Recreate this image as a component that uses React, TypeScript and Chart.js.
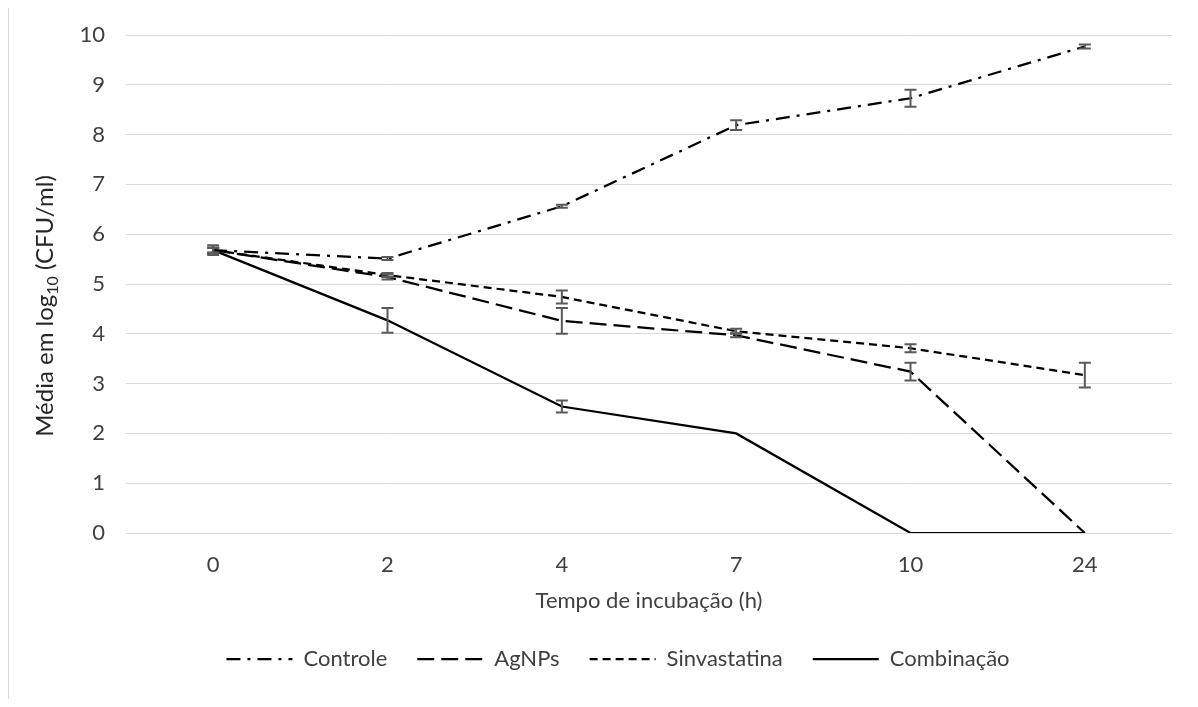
import { useEffect, useRef } from 'react';
import { Chart, registerables } from 'chart.js';

Chart.register(...registerables);

const categories = ['0', '2', '4', '7', '10', '24'];
const controle = [5.68, 5.51, 6.56, 8.19, 8.73, 9.77];
const controleErr = [0.1, 0.03, 0.03, 0.1, 0.17, 0.04];
const agnps = [5.68, 5.14, 4.26, 3.97, 3.24, 0];
const agnpsErr = [0.05, 0.05, 0.26, 0.04, 0.18, 0];
const sinvastatina = [5.68, 5.18, 4.74, 4.05, 3.71, 3.17];
const sinvastatinaErr = [0.05, 0.04, 0.13, 0.05, 0.08, 0.25];
const combinacao = [5.68, 4.27, 2.54, 2.0, 0, 0];
const combinacaoErr = [0.05, 0.25, 0.12, 0, 0, 0];
const yTicks = [0, 1, 2, 3, 4, 5, 6, 7, 8, 9, 10];

const FONT = 'Lato, "Open Sans", sans-serif';
const TEXT = '#404040';
const FS = 22;

const errorBars = {
  id: 'errorBars',
  afterDatasetsDraw(chart: any) {
    const ctx = chart.ctx;
    const x = chart.scales.x;
    const y = chart.scales.y;
    ctx.save();
    ctx.strokeStyle = '#595959';
    ctx.lineWidth = 2;
    ctx.setLineDash([]);
    chart.data.datasets.forEach((ds: any) => {
      const errs: number[] = ds.errors || [];
      ds.data.forEach((v: number, i: number) => {
        const e = errs[i];
        if (!e) return;
        const px = x.getPixelForValue(i);
        const top = y.getPixelForValue(v + e);
        const bot = y.getPixelForValue(v - e);
        ctx.beginPath();
        ctx.moveTo(px, top);
        ctx.lineTo(px, bot);
        ctx.moveTo(px - 6, top);
        ctx.lineTo(px + 6, top);
        ctx.moveTo(px - 6, bot);
        ctx.lineTo(px + 6, bot);
        ctx.stroke();
      });
    });
    ctx.restore();
  },
};

const yTitle = {
  id: 'yTitle',
  afterDraw(chart: any) {
    const ctx = chart.ctx;
    const parts: [string, number, number][] = [
      ['Média em log', 24, 0],
      ['10', 16, 5],
      [' (CFU/ml)', 24, 0],
    ];
    ctx.save();
    ctx.fillStyle = '#262626';
    ctx.textBaseline = 'alphabetic';
    ctx.textAlign = 'left';
    let total = 0;
    parts.forEach(([t, s]) => {
      ctx.font = `${s}px ${FONT}`;
      total += ctx.measureText(t).width;
    });
    ctx.translate(53, 306);
    ctx.rotate(-Math.PI / 2);
    let cx = -total / 2;
    parts.forEach(([t, s, dy]) => {
      ctx.font = `${s}px ${FONT}`;
      ctx.fillText(t, cx, dy);
      cx += ctx.measureText(t).width;
    });
    ctx.restore();
  },
};

const legendShift = {
  id: 'legendShift',
  afterLayout(chart: any) {
    const l = chart.legend;
    if (l) {
      l.left += 32;
      l.right += 32;
    }
  },
};

export default function App() {
  const ref = useRef<HTMLCanvasElement>(null);
  useEffect(() => {
    const chart = new Chart(ref.current!, {
      type: 'line',
      data: {
        labels: categories,
        datasets: [
          {
            label: 'Controle',
            data: controle,
            errors: controleErr,
            borderColor: '#000',
            backgroundColor: '#000',
            borderWidth: 2.25,
            borderDash: [14, 7, 3, 7],
            pointRadius: 0,
            fill: false,
          } as any,
          {
            label: 'AgNPs',
            data: agnps,
            errors: agnpsErr,
            borderColor: '#000',
            backgroundColor: '#000',
            borderWidth: 2.25,
            borderDash: [17, 7],
            pointRadius: 0,
            fill: false,
          } as any,
          {
            label: 'Sinvastatina',
            data: sinvastatina,
            errors: sinvastatinaErr,
            borderColor: '#000',
            backgroundColor: '#000',
            borderWidth: 2.25,
            borderDash: [8, 5],
            pointRadius: 0,
            fill: false,
          } as any,
          {
            label: 'Combinação',
            data: combinacao,
            errors: combinacaoErr,
            borderColor: '#000',
            backgroundColor: '#000',
            borderWidth: 2.25,
            borderDash: [],
            pointRadius: 0,
            fill: false,
          } as any,
        ],
      },
      options: {
        responsive: false,
        maintainAspectRatio: false,
        animation: false,
        layout: { padding: { left: 0, right: 26, top: 35, bottom: 27 } },
        plugins: {
          tooltip: { enabled: false },
          legend: {
            position: 'bottom',
            labels: {
              usePointStyle: true,
              pointStyle: 'line',
              pointStyleWidth: 66,
              padding: 30,
              color: TEXT,
              font: { family: FONT, size: FS },
              generateLabels(chart: any) {
                const base = (Chart.defaults as any).plugins.legend.labels.generateLabels(chart);
                return base.map((item: any, i: number) => ({
                  ...item,
                  pointStyle: 'line',
                  lineDash: chart.data.datasets[i].borderDash || [],
                  lineWidth: 2.25,
                  strokeStyle: '#000',
                  fillStyle: '#000',
                  fontColor: TEXT,
                }));
              },
            },
          },
        },
        scales: {
          x: {
            offset: true,
            grid: { display: false, drawTicks: false },
            border: { display: false },
            ticks: { color: TEXT, padding: 19, font: { family: FONT, size: FS } },
            title: {
              display: true,
              text: 'Tempo de incubação (h)',
              color: TEXT,
              font: { family: FONT, size: FS },
              padding: { top: 0, bottom: 4 },
            },
            afterFit(s: any) {
              s.height = 85;
            },
          },
          y: {
            min: 0,
            max: 10,
            afterBuildTicks(s: any) {
              s.ticks = yTicks.map((v) => ({ value: v }));
            },
            grid: { color: '#d9d9d9', lineWidth: 1, drawTicks: false },
            border: { display: false },
            ticks: { color: TEXT, padding: 21, font: { family: FONT, size: FS } },
            afterFit(s: any) {
              s.width = 126;
            },
          },
        },
      },
      plugins: [errorBars, yTitle, legendShift],
    } as any);
    return () => chart.destroy();
  }, []);
  return (
    <div
      style={{
        position: 'relative',
        margin: '-8px 0 -8px -8px',
        width: 1198,
        height: 707,
        overflow: 'hidden',
        background: '#fff',
      }}
    >
      <div
        style={{
          position: 'absolute',
          left: 7,
          top: 6,
          width: 1191,
          height: 701,
          borderTop: '2px solid #d9d9d9',
          borderLeft: '2px solid #d9d9d9',
          boxSizing: 'border-box',
        }}
      />
      <canvas ref={ref} width={1198} height={707} style={{ position: 'absolute', left: 0, top: 0 }} />
    </div>
  );
}
